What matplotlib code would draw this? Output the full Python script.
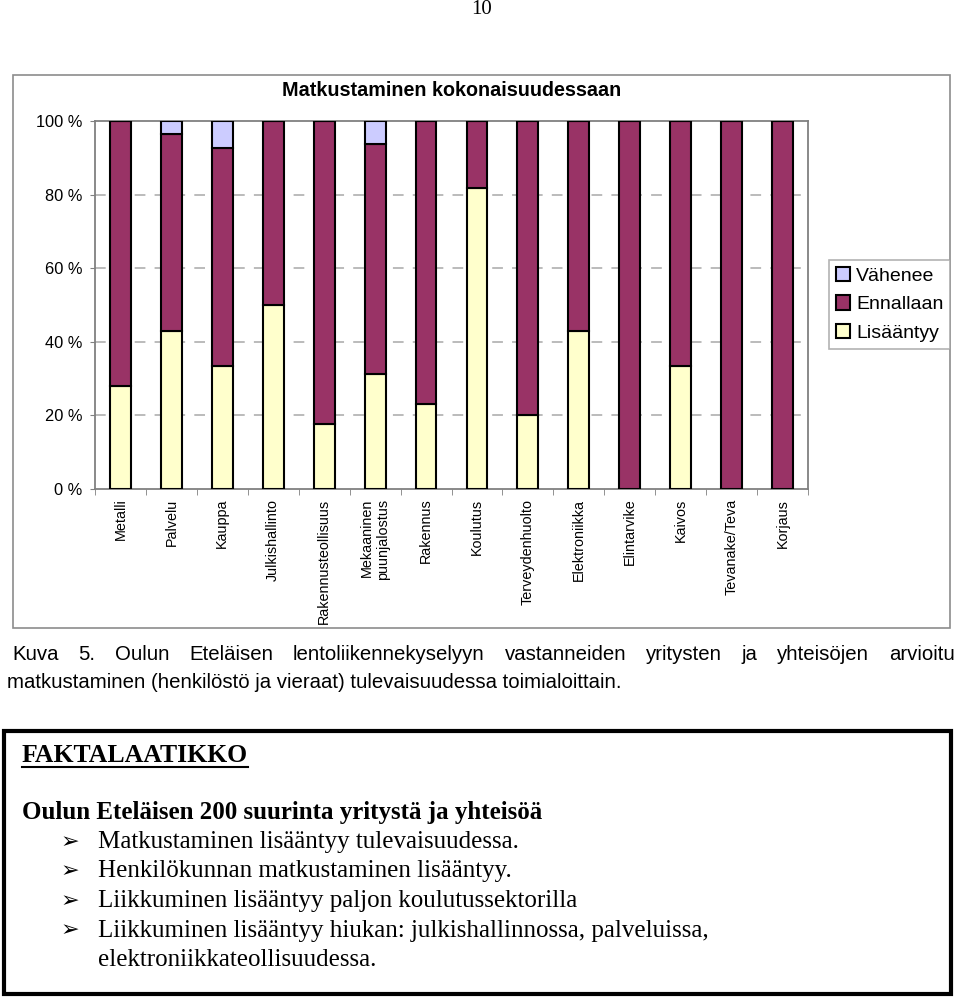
import numpy as np
import matplotlib
matplotlib.use("Agg")
import matplotlib.pyplot as plt
from matplotlib.patches import Rectangle
from matplotlib.lines import Line2D

CATEGORIES = [
    "Metalli", "Palvelu", "Kauppa", "Julkishallinto", "Rakennusteollisuus",
    "Mekaaninen\npuunjalostus", "Rakennus", "Koulutus", "Terveydenhuolto",
    "Elektroniikka", "Elintarvike", "Kaivos", "Tevanake/Teva", "Korjaus",
]
LISAANTYY = [28.0, 43.0, 33.3, 50.0, 17.6, 31.3, 23.1, 81.8, 20.0, 42.9, 0.0, 33.3, 0.0, 0.0]
VAHENEE = [0.0, 3.5, 7.4, 0.0, 0.0, 6.2, 0.0, 0.0, 0.0, 0.0, 0.0, 0.0, 0.0, 0.0]
ENNALLAAN = [100.0 - a - b for a, b in zip(LISAANTYY, VAHENEE)]
Y_TICKS = [0, 20, 40, 60, 80, 100]

COLOR_UP = "#FFFFCC"
COLOR_SAME = "#993366"
COLOR_DOWN = "#CCCCFF"

CAPTION_1 = "Kuva 5. Oulun Eteläisen lentoliikennekyselyyn vastanneiden yritysten ja yhteisöjen arvioitu"
CAPTION_2 = "matkustaminen (henkilöstö ja vieraat) tulevaisuudessa toimialoittain."
FACT_TITLE = "FAKTALAATIKKO"
FACT_HEAD = "Oulun Eteläisen 200 suurinta yritystä ja yhteisöä"
FACT_ITEMS = [
    "Matkustaminen lisääntyy tulevaisuudessa.",
    "Henkilökunnan matkustaminen lisääntyy.",
    "Liikkuminen lisääntyy paljon koulutussektorilla",
    "Liikkuminen lisääntyy hiukan: julkishallinnossa, palveluissa,",
]
FACT_TAIL = "elektroniikkateollisuudessa."

W, H = 960, 1000
SANS = ["Liberation Sans", "DejaVu Sans"]
SERIF = ["Liberation Serif", "DejaVu Serif"]


def fx(px):
    return px / W


def fy(py):
    return 1 - py / H


fig = plt.figure(figsize=(W / 100, H / 100), dpi=100)
fig.text(fx(482), fy(10), "10", family=SERIF, fontsize=15, ha="center", va="center")

# chart frame
fig.patches.append(Rectangle((fx(13), fy(628)), fx(937), 553 / H, transform=fig.transFigure,
                             fill=False, edgecolor="#8c8c8c", linewidth=1.2))

ax = fig.add_axes([fx(95), fy(489), fx(713), 368 / H])
x = np.arange(len(CATEGORIES))
bw = 0.41
ax.bar(x, LISAANTYY, bw, color=COLOR_UP, edgecolor="black", linewidth=1.5, label="Lisääntyy", zorder=3)
ax.bar(x, ENNALLAAN, bw, bottom=LISAANTYY, color=COLOR_SAME, edgecolor="black", linewidth=1.5,
       label="Ennallaan", zorder=3)
tops = [a + b for a, b in zip(LISAANTYY, ENNALLAAN)]
ax.bar(x, VAHENEE, bw, bottom=tops, color=COLOR_DOWN, edgecolor="black", linewidth=1.5,
       label="Vähenee", zorder=3)

ax.set_xlim(-0.5, len(CATEGORIES) - 0.5)
ax.set_ylim(0, 100)
ax.set_yticks(Y_TICKS, [f"{v} %" for v in Y_TICKS], family=SANS, fontsize=11.8)
ax.set_xticks(x, CATEGORIES, rotation=90, family=SANS, fontsize=10.4, va="top", ha="center",
              multialignment="right")
ax.set_xticks(np.arange(len(CATEGORIES) + 1) - 0.5, minor=True)
ax.tick_params(axis="x", which="major", length=0, pad=7)
ax.tick_params(axis="x", which="minor", length=4, color="#808080", direction="out")
ax.tick_params(axis="y", length=3.6, color="#808080", pad=5.5)
for s in ax.spines.values():
    s.set_color("#808080")
    s.set_linewidth(1.3)
for v in Y_TICKS[1:-1]:
    ax.axhline(v, color="#a8a8a8", linewidth=1.1, linestyle=(0, (7, 6)), zorder=1)

fig.text(fx(452), fy(90), "Matkustaminen kokonaisuudessaan", family=SANS, fontsize=14.2,
         fontweight="bold", ha="center", va="center")

handles, labels = ax.get_legend_handles_labels()
leg = fig.legend(handles[::-1], labels[::-1], loc="upper left", bbox_to_anchor=(fx(829), fy(260)),
                 prop={"family": SANS, "size": 14}, frameon=True, fancybox=False,
                 handlelength=0.75, handleheight=0.75, handletextpad=0.3, labelspacing=0.55,
                 borderpad=0.35, borderaxespad=0)
leg.get_frame().set_edgecolor("#a0a0a0")
leg.get_frame().set_linewidth(1.2)

# caption, line 1 justified
fig.canvas.draw()
renderer = fig.canvas.get_renderer()
words = CAPTION_1.split()
texts = [fig.text(0, fy(654), w, family=SANS, fontsize=14.7, va="center") for w in words]
widths = [t.get_window_extent(renderer).width for t in texts]
left, right = 12, 955
gap = (right - left - sum(widths)) / (len(words) - 1)
pos = left
for t, w in zip(texts, widths):
    t.set_x(fx(pos))
    pos += w + gap
fig.text(fx(7), fy(683), CAPTION_2, family=SANS, fontsize=14.7, va="center")

# fact box
fig.patches.append(Rectangle((fx(4), fy(994)), fx(947), 263 / H, transform=fig.transFigure,
                             fill=False, edgecolor="black", linewidth=3))
ft = fig.text(fx(22), fy(755), FACT_TITLE, family=SERIF, fontsize=18.5, fontweight="bold", va="center")
ext = ft.get_window_extent(renderer)
fig.lines.append(Line2D([fx(ext.x0), fx(ext.x1)], [fy(767), fy(767)], transform=fig.transFigure,
                        color="black", linewidth=1.5))
fig.text(fx(22), fy(813), FACT_HEAD, family=SERIF, fontsize=18, fontweight="bold", va="center")
for i, item in enumerate(FACT_ITEMS):
    yy = 842 + i * 29.5
    fig.text(fx(61), fy(yy), "➢", family=["DejaVu Sans"], fontsize=16, va="center")
    fig.text(fx(98), fy(yy), item, family=SERIF, fontsize=18, va="center")
fig.text(fx(98), fy(960), FACT_TAIL, family=SERIF, fontsize=18, va="center")

fig.savefig("out.png", dpi=100)
